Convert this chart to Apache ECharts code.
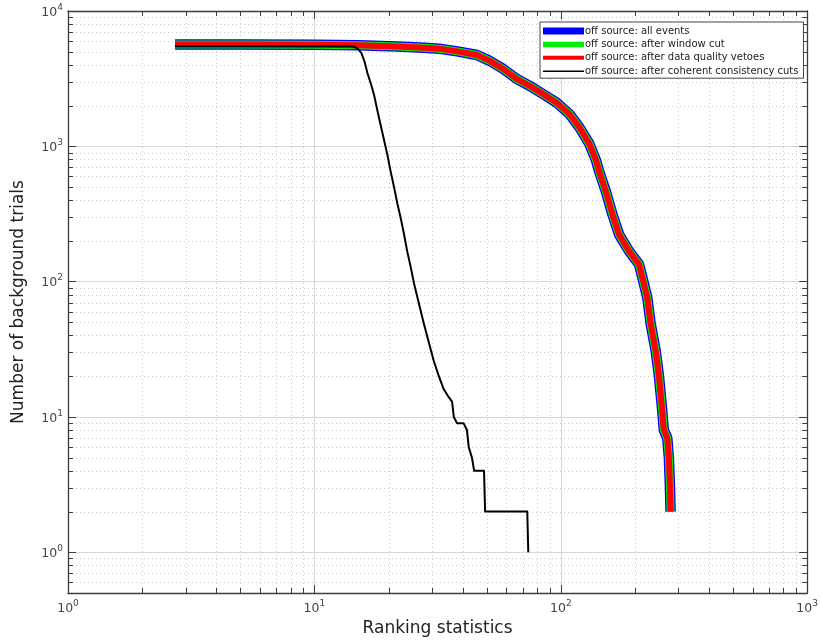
<!DOCTYPE html>
<html>
<head>
<meta charset="utf-8">
<script src="https://cdn.jsdelivr.net/npm/echarts@6/dist/echarts.min.js"></script>
<style>
  html, body { margin: 0; padding: 0; background: #fff; }
  #chart { width: 821px; height: 642px; }
</style>
</head>
<body>
<div id="chart"></div>
<script>
// Ranking statistic thresholds and surviving background trials (off-source)
const offSourceX = [2.72, 5, 10, 15, 21.7, 28, 33, 38, 45.7, 51.5, 58.5, 66.2, 74.7, 84.8, 95.9, 108.5, 119, 130.6, 139, 143.3, 152.5, 162.3, 172.6, 189.3, 207.8, 214.4, 224.5, 231.5, 242.6, 250.3, 258.2, 261.9, 270.4, 274.6, 277.4, 279];
const allEvents   = [5650, 5650, 5620, 5580, 5460, 5350, 5230, 5030, 4730, 4280, 3720, 3150, 2800, 2430, 2110, 1730, 1380, 1043, 787, 647, 462, 311, 222, 168, 134, 107, 76, 49, 31, 20, 11, 8, 7, 5, 3, 2];
const windowCut   = [5650, 5650, 5620, 5580, 5460, 5350, 5230, 5030, 4730, 4280, 3720, 3150, 2800, 2430, 2110, 1730, 1380, 1043, 787, 647, 462, 311, 222, 168, 134, 107, 76, 49, 31, 20, 11, 8, 7, 5, 3, 2];
const dqVetoes    = [5650, 5650, 5620, 5580, 5460, 5350, 5230, 5030, 4730, 4280, 3720, 3150, 2800, 2430, 2110, 1730, 1380, 1043, 787, 647, 462, 311, 222, 168, 134, 107, 76, 49, 31, 20, 11, 8, 7, 5, 3, 2];

const coherentX = [2.72, 13.3, 14.0, 14.5, 15.0, 15.5, 16.0, 16.4, 17.0, 17.5, 18.0, 18.6, 19.2, 19.8, 20.4, 21.1, 21.7, 22.4, 23.1, 23.8, 24.6, 25.4, 26.6, 27.8, 29.2, 30.5, 32, 33.5, 35.1, 36.2, 36.8, 37.9, 40.3, 41.6, 42.3, 43.6, 44.5, 48.8, 49.3, 73.1, 73.8];
const coherentCuts = [5500, 5500, 5490, 5450, 5250, 4900, 4200, 3500, 2850, 2360, 1850, 1420, 1100, 857, 650, 489, 380, 295, 225, 168, 128, 96, 68, 49, 35, 26, 20, 16, 14, 13, 10, 9, 9, 8, 6, 5, 4, 4, 2, 2, 1];

const seriesNames = [
  'off source: all events',
  'off source: after window cut',
  'off source: after data quality vetoes',
  'off source: after coherent consistency cuts'
];

// Minor (2..9 per decade) tick positions
const xMinorTicks = [2, 3, 4, 5, 6, 7, 8, 9, 20, 30, 40, 50, 60, 70, 80, 90, 200, 300, 400, 500, 600, 700, 800, 900];
const yMinorTicks = [0.6, 0.7, 0.8, 0.9, 2, 3, 4, 5, 6, 7, 8, 9, 20, 30, 40, 50, 60, 70, 80, 90, 200, 300, 400, 500, 600, 700, 800, 900, 2000, 3000, 4000, 5000, 6000, 7000, 8000, 9000];

const pairs = (xs, ys) => xs.map((x, i) => [x, ys[i]]);

const FONT = 'DejaVu Sans';
const AXIS_COLOR = '#3c3c3c';
const MINOR_GRID = '#cacaca';

function powLabel(v) {
  const lg = Math.log10(v);
  const k = Math.round(lg);
  if (Math.abs(lg - k) > 1e-6) return '';
  return '{b|10}{s|' + k + '}';
}

const labelRich = {
  b: { fontSize: 12.5, color: '#444', fontFamily: FONT, verticalAlign: 'bottom', lineHeight: 16 },
  s: { fontSize: 9, color: '#444', fontFamily: FONT, verticalAlign: 'top', lineHeight: 16 }
};

function crisp(v) { return Math.round(v) + 0.5; }

// dotted minor grid line plus short inward ticks on both opposite frame edges
function renderMinorX(params, api) {
  const cs = params.coordSys;
  const x = crisp(api.coord([api.value(0), 1])[0]);
  const top = cs.y, bot = cs.y + cs.height;
  return { type: 'group', children: [
    { type: 'line', shape: { x1: x, y1: top, x2: x, y2: bot }, style: { stroke: MINOR_GRID, lineWidth: 1, lineDash: [1, 3] } },
    { type: 'line', shape: { x1: x, y1: bot, x2: x, y2: bot - 5 }, style: { stroke: AXIS_COLOR, lineWidth: 1 } },
    { type: 'line', shape: { x1: x, y1: top, x2: x, y2: top + 5 }, style: { stroke: AXIS_COLOR, lineWidth: 1 } }
  ] };
}
function renderMinorY(params, api) {
  const cs = params.coordSys;
  const y = crisp(api.coord([10, api.value(1)])[1]);
  const left = cs.x, right = cs.x + cs.width;
  return { type: 'group', children: [
    { type: 'line', shape: { x1: left, y1: y, x2: right, y2: y }, style: { stroke: MINOR_GRID, lineWidth: 1, lineDash: [1, 3] } },
    { type: 'line', shape: { x1: left, y1: y, x2: left + 5, y2: y }, style: { stroke: AXIS_COLOR, lineWidth: 1 } },
    { type: 'line', shape: { x1: right, y1: y, x2: right - 5, y2: y }, style: { stroke: AXIS_COLOR, lineWidth: 1 } }
  ] };
}

const baseX = { type: 'log', logBase: 10, min: 1, max: 1000 };
const baseY = { type: 'log', logBase: 10, min: 0.5, max: 10000 };

const chart = echarts.init(document.getElementById('chart'), null, { renderer: 'canvas' });
chart.setOption({
  animation: false,
  backgroundColor: '#fff',
  grid: { left: 68, right: 8, top: 11, bottom: 44, containLabel: false },
  xAxis: [
    Object.assign({}, baseX, {
      position: 'bottom',
      name: 'Ranking statistics',
      nameLocation: 'middle',
      nameGap: 27,
      nameTextStyle: { fontFamily: FONT, fontSize: 17, color: '#222' },
      axisLine: { show: true, lineStyle: { color: AXIS_COLOR, width: 1.3 } },
      axisTick: { show: true, inside: true, length: 8, lineStyle: { color: AXIS_COLOR } },
      axisLabel: { show: true, margin: 6, formatter: powLabel, rich: labelRich, showMinLabel: true, showMaxLabel: true },
      splitLine: { show: true, lineStyle: { color: '#d6d6d6', width: 1 } },
      minorTick: { show: false },
      minorSplitLine: { show: false }
    }),
    Object.assign({}, baseX, {
      position: 'top',
      axisLine: { show: true, lineStyle: { color: AXIS_COLOR, width: 1.3 } },
      axisTick: { show: true, inside: true, length: 8, lineStyle: { color: AXIS_COLOR } },
      axisLabel: { show: false },
      splitLine: { show: false }
    })
  ],
  yAxis: [
    Object.assign({}, baseY, {
      position: 'left',
      name: 'Number of background trials',
      nameLocation: 'middle',
      nameGap: 41,
      nameTextStyle: { fontFamily: FONT, fontSize: 17, color: '#222' },
      axisLine: { show: true, lineStyle: { color: AXIS_COLOR, width: 1.3 } },
      axisTick: { show: true, inside: true, length: 8, lineStyle: { color: AXIS_COLOR } },
      axisLabel: { show: true, margin: 5, formatter: powLabel, rich: labelRich, showMinLabel: true, showMaxLabel: true },
      splitLine: { show: true, lineStyle: { color: '#d6d6d6', width: 1 } }
    }),
    Object.assign({}, baseY, {
      position: 'right',
      axisLine: { show: true, lineStyle: { color: AXIS_COLOR, width: 1.3 } },
      axisTick: { show: true, inside: true, length: 8, lineStyle: { color: AXIS_COLOR } },
      axisLabel: { show: false },
      splitLine: { show: false }
    })
  ],
  legend: {
    orient: 'vertical',
    left: 540,
    top: 22,
    padding: [3.5, 5, 1.5, 3],
    backgroundColor: '#fff',
    borderColor: '#444',
    borderWidth: 1,
    borderRadius: 0,
    itemWidth: 41,
    itemHeight: 11,
    itemGap: 2.4,
    textStyle: { fontFamily: FONT, fontSize: 10, color: '#222', padding: [0, 0, 0, -4] },
    data: [
      { name: seriesNames[0], icon: 'path://M0,0M0,11M0,2H41V9H0Z', itemStyle: { color: '#0000ff', borderWidth: 0 } },
      { name: seriesNames[1], icon: 'path://M0,0M0,11M0,2.75H41V8.25H0Z', itemStyle: { color: '#00ee00', borderWidth: 0 } },
      { name: seriesNames[2], icon: 'path://M0,0M0,11M0,3.5H41V7.5H0Z', itemStyle: { color: '#ff0000', borderWidth: 0 } },
      { name: seriesNames[3], icon: 'path://M0,0M0,11M0,4.7H41V6.3H0Z', itemStyle: { color: '#000000', borderWidth: 0 } }
    ]
  },
  series: [
    {
      type: 'custom', name: 'xMinor', silent: true, z: 1,
      renderItem: renderMinorX,
      encode: { x: 0, y: 1 },
      data: xMinorTicks.map(v => [v, 1])
    },
    {
      type: 'custom', name: 'yMinor', silent: true, z: 1,
      renderItem: renderMinorY,
      encode: { x: 0, y: 1 },
      data: yMinorTicks.map(v => [10, v])
    },
    {
      type: 'line', name: seriesNames[0], data: pairs(offSourceX, allEvents),
      showSymbol: false, symbol: 'none', z: 3,
      color: '#0000ff',
      lineStyle: { color: '#0000ff', width: 10.5, join: 'round' }
    },
    {
      type: 'line', name: seriesNames[1], data: pairs(offSourceX, windowCut),
      showSymbol: false, symbol: 'none', z: 4,
      color: '#00ee00',
      lineStyle: { color: '#00ee00', width: 8, join: 'round' }
    },
    {
      type: 'line', name: seriesNames[2], data: pairs(offSourceX, dqVetoes),
      showSymbol: false, symbol: 'none', z: 5,
      color: '#ff0000',
      lineStyle: { color: '#ff0000', width: 6, join: 'round' }
    },
    {
      type: 'line', name: seriesNames[3], data: pairs(coherentX, coherentCuts),
      showSymbol: false, symbol: 'none', z: 6,
      color: '#000000',
      lineStyle: { color: '#000000', width: 2, join: 'round' }
    }
  ]
});
</script>
</body>
</html>
